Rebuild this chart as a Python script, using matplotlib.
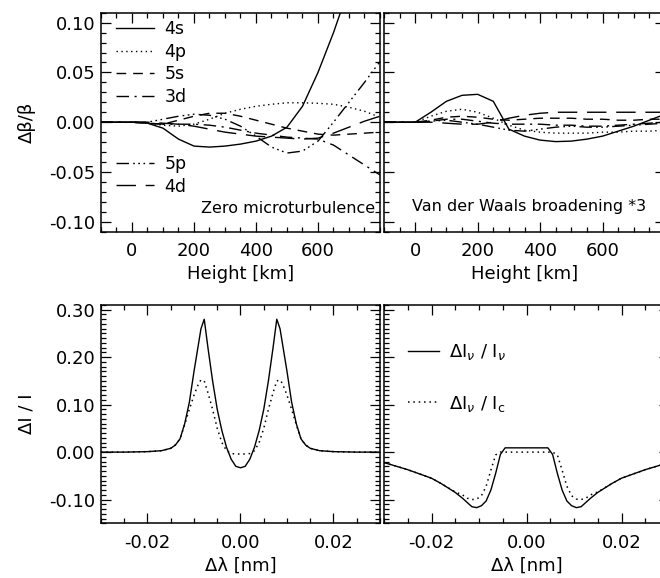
import matplotlib
matplotlib.use("Agg")
import matplotlib.pyplot as plt
from matplotlib.ticker import MultipleLocator, FormatStrFormatter

plt.rcParams['font.family'] = ['DejaVu Sans']
plt.rcParams['font.size'] = 12.5
plt.rcParams['mathtext.fontset'] = 'dejavusans'

# ---- top panels: relative change of beta vs height ----
height = [-100, -50, 0, 50, 100, 150, 200, 250, 300, 350, 400,
          450, 500, 550, 600, 650, 700, 750, 800]

zero_4s = [0, 0, 0, -0.001, -0.006, -0.017, -0.024, -0.025, -0.024, -0.022, -0.019,
           -0.014, -0.005, 0.016, 0.050, 0.090, 0.135, 0.18, 0.22]
zero_4p = [0, 0, 0, -0.001, -0.003, -0.004, -0.002, 0.003, 0.009, 0.013, 0.016,
           0.018, 0.0195, 0.0195, 0.019, 0.018, 0.015, 0.011, 0.005]
zero_5s = [0, 0, 0, -0.001, -0.002, 0.002, 0.006, 0.009, 0.009, 0.006, 0.002,
           -0.002, -0.006, -0.009, -0.012, -0.013, -0.012, -0.011, -0.010]
zero_3d = [0, 0, 0, -0.001, -0.002, -0.002, -0.002, -0.003, -0.005, -0.008, -0.011,
           -0.013, -0.015, -0.016, -0.017, -0.023, -0.033, -0.043, -0.053]
zero_5p = [0, 0, 0, 0, 0.003, 0.006, 0.008, 0.007, 0.003, -0.004, -0.014,
           -0.025, -0.031, -0.029, -0.019, 0.0, 0.020, 0.040, 0.061]
zero_4d = [0, 0, 0, 0, -0.001, -0.002, -0.004, -0.007, -0.010, -0.012, -0.014,
           -0.015, -0.016, -0.017, -0.016, -0.011, -0.005, 0.001, 0.006]

vdw_4s = [0, 0, 0, 0.010, 0.021, 0.027, 0.028, 0.021, -0.007, -0.014, -0.018,
          -0.0195, -0.019, -0.017, -0.014, -0.009, -0.004, 0.002, 0.008]
vdw_4p = [0, 0, 0, 0.006, 0.011, 0.013, 0.010, 0.004, -0.003, -0.008, -0.010,
          -0.011, -0.011, -0.011, -0.010, -0.010, -0.009, -0.009, -0.008]
vdw_5s = [0, 0, 0, 0.002, 0.005, 0.006, 0.005, 0.003, 0.002, 0.003, 0.004,
          0.004, 0.004, 0.003, 0.003, 0.002, 0.002, 0.003, 0.003]
vdw_3d = [0, 0, 0, 0.001, 0.003, 0.003, 0.001, -0.001, -0.002, -0.002, -0.002,
          -0.003, -0.003, -0.004, -0.004, -0.003, -0.002, -0.001, 0.0]
vdw_5p = [0, 0, 0, 0.001, 0.002, 0.0, -0.002, -0.005, -0.008, -0.009, -0.007,
          -0.005, -0.004, -0.005, -0.005, -0.004, -0.003, -0.002, -0.001]
vdw_4d = [0, 0, 0, 0, -0.001, -0.002, -0.002, 0.0, 0.004, 0.007, 0.009,
          0.010, 0.010, 0.010, 0.010, 0.010, 0.010, 0.010, 0.010]

level_names = ['4s', '4p', '5s', '3d', '5p', '4d']

# ---- bottom panels: intensity change vs wavelength ----
dlam_left = [-0.03, -0.025, -0.02, -0.017, -0.015, -0.014, -0.013, -0.012, -0.011,
             -0.010, -0.009, -0.0085, -0.0078, -0.007, -0.006, -0.005, -0.004,
             -0.003, -0.002, -0.001, 0.0,
             0.001, 0.002, 0.003, 0.004, 0.005, 0.006, 0.007, 0.0078, 0.0085,
             0.009, 0.010, 0.011, 0.012, 0.013, 0.014, 0.015, 0.017, 0.02, 0.025, 0.03]
di_inu_left = [0, 0, 0.001, 0.003, 0.008, 0.015, 0.028, 0.06, 0.105,
               0.17, 0.23, 0.26, 0.28, 0.22, 0.15, 0.09, 0.045,
               0.01, -0.015, -0.03, -0.033,
               -0.03, -0.015, 0.01, 0.045, 0.09, 0.15, 0.22, 0.28, 0.26,
               0.23, 0.17, 0.105, 0.06, 0.028, 0.015, 0.008, 0.003, 0.001, 0, 0]
di_ic_left = [0, 0, 0.001, 0.003, 0.008, 0.015, 0.028, 0.058, 0.09,
              0.12, 0.145, 0.152, 0.15, 0.125, 0.09, 0.05, 0.02,
              0.003, -0.003, -0.004, -0.004,
              -0.004, -0.003, 0.003, 0.02, 0.05, 0.09, 0.125, 0.15, 0.152,
              0.145, 0.12, 0.09, 0.058, 0.028, 0.015, 0.008, 0.003, 0.001, 0, 0]

dlam_right = [-0.03, -0.025, -0.02, -0.018, -0.015, -0.0135, -0.0125, -0.0115, -0.0105,
              -0.0095, -0.0085, -0.0075, -0.0065, -0.0055, -0.0045, -0.003, 0.0,
              0.003, 0.0045, 0.0055, 0.0065, 0.0075, 0.0085, 0.0095, 0.0105,
              0.0115, 0.0125, 0.0135, 0.015, 0.018, 0.02, 0.025, 0.03]
di_inu_right = [-0.022, -0.037, -0.055, -0.066, -0.085, -0.097, -0.106, -0.115, -0.117,
                -0.113, -0.103, -0.08, -0.045, -0.005, 0.009, 0.009, 0.009,
                0.009, 0.009, -0.005, -0.045, -0.08, -0.103, -0.113, -0.117,
                -0.115, -0.106, -0.097, -0.085, -0.066, -0.055, -0.037, -0.022]
di_ic_right = [-0.022, -0.037, -0.055, -0.066, -0.084, -0.090, -0.097, -0.100, -0.099,
               -0.092, -0.072, -0.038, -0.006, 0.0, 0.0, 0.0, 0.0,
               0.0, 0.0, 0.0, -0.006, -0.038, -0.072, -0.092, -0.099,
               -0.100, -0.097, -0.090, -0.084, -0.066, -0.055, -0.037, -0.022]

styles = {
    '4s': '-',
    '4p': (0, (1, 2.5)),
    '5s': (0, (7, 5)),
    '3d': (0, (9, 4, 1.5, 4)),
    '5p': (0, (9, 3, 1.2, 2.5, 1.2, 2.5, 1.2, 3)),
    '4d': (0, (14, 7)),
}

W, H = 660, 578
fig = plt.figure(figsize=(6.6, 5.78), dpi=100)


def box(left, right, top, bottom):
    return [left / W, 1 - bottom / H, (right - left) / W, (bottom - top) / H]


ax_tl = fig.add_axes(box(101, 380, 12.7, 231.7))
ax_tr = fig.add_axes(box(384, 665, 12.7, 231.7))
ax_bl = fig.add_axes(box(101, 380, 305, 523.3))
ax_br = fig.add_axes(box(384, 669, 305, 523.3))


def style_axes(ax, show_y):
    for sp in ax.spines.values():
        sp.set_linewidth(1.1)
    ax.tick_params(which='both', direction='in', top=True, right=True, width=0.9)
    ax.tick_params(which='major', length=7.5)
    ax.tick_params(which='minor', length=3.8)
    ax.tick_params(axis='x', pad=7.5, labelsize=13)
    ax.tick_params(axis='y', pad=4, labelsize=13)
    if not show_y:
        ax.tick_params(axis='y', labelleft=False)


zero_sets = [zero_4s, zero_4p, zero_5s, zero_3d, zero_5p, zero_4d]
vdw_sets = [vdw_4s, vdw_4p, vdw_5s, vdw_3d, vdw_5p, vdw_4d]

lines = []
for name, ys in zip(level_names, zero_sets):
    ln, = ax_tl.plot(height, ys, color='black', lw=1.0, ls=styles[name], label=name)
    lines.append(ln)
for name, ys in zip(level_names, vdw_sets):
    ax_tr.plot(height, ys, color='black', lw=1.0, ls=styles[name])

for ax in (ax_tl, ax_tr):
    ax.set_xlim(-100, 800)
    ax.set_ylim(-0.11, 0.11)
    ax.xaxis.set_major_locator(MultipleLocator(200))
    ax.xaxis.set_minor_locator(MultipleLocator(50))
    ax.yaxis.set_major_locator(MultipleLocator(0.05))
    ax.yaxis.set_minor_locator(MultipleLocator(0.01))
    ax.yaxis.set_major_formatter(FormatStrFormatter('%.2f'))
    ax.set_xlabel('Height [km]', fontsize=13)
    ax.xaxis.set_label_coords(0.5, -0.15)

style_axes(ax_tl, True)
style_axes(ax_tr, False)
ax_tl.set_xticks([0, 200, 400, 600])
ax_tr.set_xticks([0, 200, 400, 600])
ax_tl.set_ylabel('Δβ/β', fontsize=13)
ax_tl.yaxis.set_label_coords(-0.235, 0.5)

leg1 = ax_tl.legend(handles=lines[:4], loc='upper left', bbox_to_anchor=(0.054, 0.965),
                    frameon=False, borderpad=0, borderaxespad=0, handlelength=2.2,
                    handletextpad=0.6, labelspacing=0.26, fontsize=12.5)
ax_tl.add_artist(leg1)
ax_tl.legend(handles=lines[4:], loc='upper left', bbox_to_anchor=(0.054, 0.35),
             frameon=False, borderpad=0, borderaxespad=0, handlelength=2.2,
             handletextpad=0.6, labelspacing=0.26, fontsize=12.5)

ax_tl.text(0.982, 0.108, 'Zero microturbulence', transform=ax_tl.transAxes,
           ha='right', va='center', fontsize=11.5)
ax_tr.text(0.1, 0.113, 'Van der Waals broadening *3', transform=ax_tr.transAxes,
           ha='left', va='center', fontsize=11.5)

# bottom panels
ax_bl.plot(dlam_left, di_inu_left, color='black', lw=1.0, ls='-')
ax_bl.plot(dlam_left, di_ic_left, color='black', lw=1.1, ls=styles['4p'])
l1, = ax_br.plot(dlam_right, di_inu_right, color='black', lw=1.0, ls='-',
                 label=r'ΔI$_\nu$ / I$_\nu$')
l2, = ax_br.plot(dlam_right, di_ic_right, color='black', lw=1.1, ls=styles['4p'],
                 label=r'ΔI$_\nu$ / I$_{\rm c}$')

for ax in (ax_bl, ax_br):
    ax.set_xlim(-0.03, 0.03)
    ax.set_ylim(-0.15, 0.31)
    ax.xaxis.set_major_locator(MultipleLocator(0.02))
    ax.xaxis.set_minor_locator(MultipleLocator(0.005))
    ax.yaxis.set_major_locator(MultipleLocator(0.1))
    ax.yaxis.set_minor_locator(MultipleLocator(0.01))
    ax.xaxis.set_major_formatter(FormatStrFormatter('%.2f'))
    ax.yaxis.set_major_formatter(FormatStrFormatter('%.2f'))
    ax.set_xlabel('Δλ [nm]', fontsize=13)
    ax.xaxis.set_label_coords(0.5, -0.155)

style_axes(ax_bl, True)
style_axes(ax_br, False)
ax_bl.set_ylabel('ΔI / I', fontsize=13)
ax_bl.yaxis.set_label_coords(-0.235, 0.5)

ax_br.legend(handles=[l1, l2], loc='upper left', bbox_to_anchor=(0.084, 0.83),
             frameon=False, borderpad=0, borderaxespad=0, handlelength=1.7,
             handletextpad=0.6, labelspacing=1.75, fontsize=13)

fig.savefig('out.png', dpi=100)
